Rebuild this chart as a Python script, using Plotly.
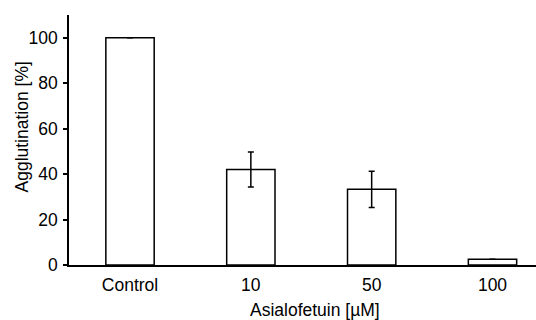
import plotly.graph_objects as go

categories = ["Control", "10", "50", "100"]
agglutination = [100, 42, 33.3, 2.5]
errors = [0, 7.7, 8.0, 0]
y_ticks = [0, 20, 40, 60, 80, 100]

positions = list(range(len(categories)))
font = dict(family="Liberation Sans, Arial, sans-serif", size=17.5, color="black")

fig = go.Figure()
fig.add_trace(go.Bar(
    x=positions, y=agglutination, width=0.4,
    marker=dict(color="white", line=dict(color="black", width=1.5)),
    error_y=dict(type="data", array=errors, visible=True, color="black",
                 thickness=1.5, width=3),
    showlegend=False, hoverinfo="skip",
))

fig.update_layout(
    width=536, height=320,
    margin=dict(l=69, r=0, t=15, b=55, autoexpand=False),
    paper_bgcolor="white", plot_bgcolor="white",
    font=font,
    xaxis=dict(range=[-0.505, 3.36], tickvals=positions, ticktext=categories,
               showline=True, linecolor="black", linewidth=1.5, automargin=False,
               showgrid=False, zeroline=False, ticks="", ticklabelstandoff=3),
    yaxis=dict(range=[0, 110], tickvals=y_ticks, showline=True, automargin=False,
               linecolor="black", linewidth=1.5, showgrid=False, zeroline=False,
               ticks="outside", ticklen=4, tickwidth=1.5, tickcolor="black",
               ticklabelstandoff=2),
    annotations=[
        dict(text="Agglutination [%]", xref="paper", yref="paper",
             x=0, xshift=-47, y=0.55, xanchor="center", yanchor="middle",
             textangle=-90, showarrow=False, font=font),
        dict(text="Asialofetuin [µM]", xref="paper", yref="paper",
             x=0.527, y=0, yshift=-45, xanchor="center", yanchor="middle",
             showarrow=False, font=font),
    ],
)

fig.write_html("out.html", config={"displayModeBar": False},
               post_script="document.body.style.margin='0';document.body.style.padding='0';")
